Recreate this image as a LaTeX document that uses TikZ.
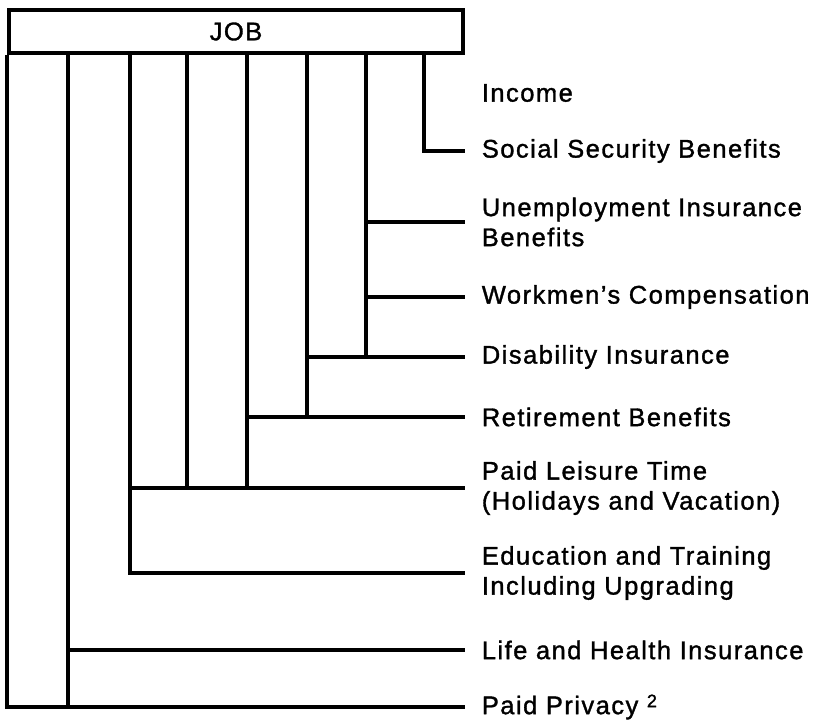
\documentclass[tikz,border=0pt]{standalone}
\usepackage{fontspec}
\setmainfont{Liberation Sans}[LetterSpace=5.8, FakeBold=1.3]
\begin{document}
\begin{tikzpicture}[x=1pt, y=-1pt,
  every path/.style={line width=3.7pt, line join=miter},
  labeltext/.style={font=\fontsize{25.5}{30}\selectfont},
  item/.style={labeltext, anchor=west, inner xsep=15pt, inner ysep=0pt, align=left},
  jobbox/.style={labeltext, draw, line width=3.7pt, inner sep=0pt,
    minimum width=454pt, minimum height=43pt}]
\useasboundingbox (0,0) rectangle (813,720);

% the job box at the top
\node[jobbox] (job) at (236,31.5) {JOB};

% labels on the right
\node[item] (income)  at (465,93)  {Income};
\node[item] (social)  at (465,151) {Social Security Benefits};
\node[item] (unemp)   at (465,222) {Unemployment Insurance\\Benefits};
\node[item] (work)    at (465,297) {Workmen's Compensation};
\node[item] (disab)   at (465,357) {Disability Insurance};
\node[item] (retire)  at (465,417) {Retirement Benefits};
\node[item] (leisure) at (465,488) {Paid Leisure Time\\(Holidays and Vacation)};
\node[item] (edu)     at (465,573) {Education and Training\\Including Upgrading};
\node[item] (life)    at (465,650) {Life and Health Insurance};
\node[item] (privacy) at (465,707) {Paid Privacy \raisebox{7pt}{\fontsize{18}{18}\selectfont 2}};

% feet of the vertical bars under the box
\coordinate (v424) at (424,53);
\coordinate (v366) at (366,53);
\coordinate (v307) at (307,53);
\coordinate (v247) at (247,53);
\coordinate (v187) at (187,53);
\coordinate (v130) at (130,53);
\coordinate (v68)  at (68,53);

% bars and branches
\draw (v424) |- (social.west);

\draw (v366) -- (v366 |- disab.west);
\draw (v366 |- unemp.west) -- (unemp.west);
\draw (v366 |- work.west) -- (work.west);

\draw (v307) |- (disab.west);
\draw (v307) -- (v307 |- retire.west);

\draw (v247) -- (v247 |- leisure.west);
\draw (v247 |- retire.west) -- (retire.west);

\draw (v187) -- (v187 |- leisure.west);

\draw (v130) |- (edu.west);
\draw (v130 |- leisure.west) -- (leisure.west);

\draw (v68) -- (v68 |- privacy.west);
\draw (v68 |- life.west) -- (life.west);

\draw (job.south west) |- (privacy.west);
\end{tikzpicture}
\end{document}
